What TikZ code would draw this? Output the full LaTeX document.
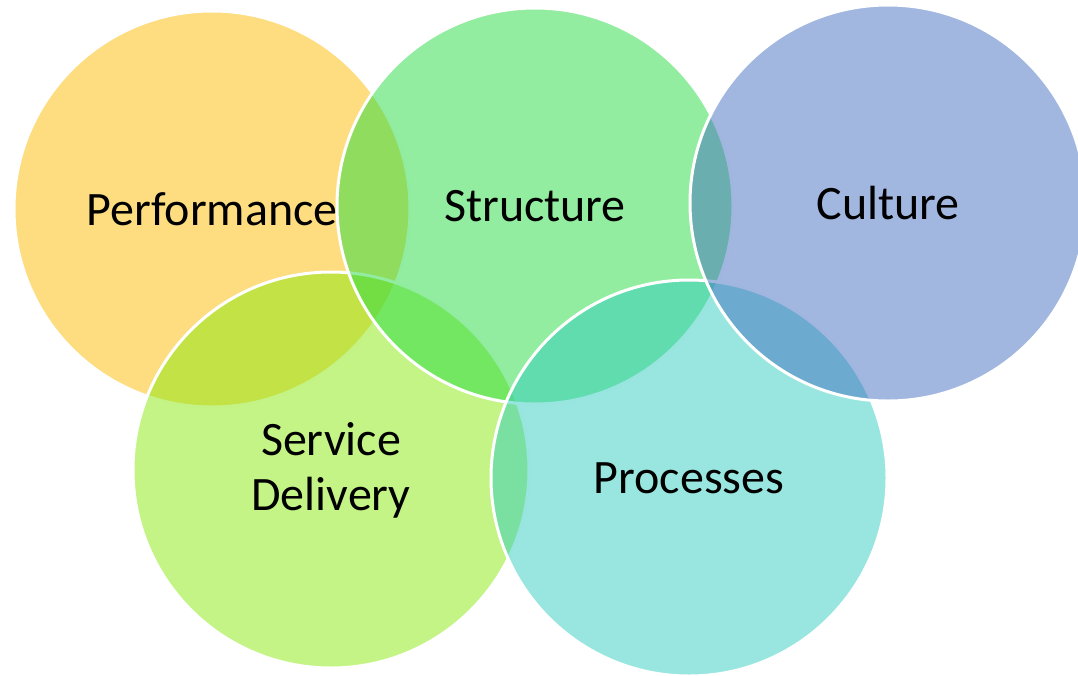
\documentclass[tikz,border=0pt]{standalone}
\usepackage{fontspec}
\setmainfont{Carlito}
\definecolor{perfcol}{RGB}{251,187,1}
\definecolor{strucol}{RGB}{37,219,65}
\definecolor{cultcol}{RGB}{67,111,193}
\definecolor{servcol}{RGB}{137,233,13}
\definecolor{proccol}{RGB}{49,205,191}
\tikzset{
	bubble/.style={draw=white, line width=3pt, fill opacity=0.5, draw opacity=1},
	label text/.style={text=black, align=center, font=\fontsize{48}{55}\selectfont}
}
\begin{document}
\begin{tikzpicture}[x=1pt, y=-1pt, line join=round, line cap=round]
	\useasboundingbox (0,0) rectangle (1078,675);
	\path (212,209)coordinate(Perf) (535,206)coordinate(Stru) (888,203)coordinate(Cult)
		(331,470)coordinate(Serv) (689,478)coordinate(Proc);

\draw[bubble, fill=perfcol] (Perf) circle[radius=198pt];
\draw[bubble, fill=servcol] (Serv) circle[radius=198pt];
\draw[bubble, fill=strucol] (Stru) circle[radius=198pt];
\draw[bubble, fill=proccol] (Proc) circle[radius=198pt];
\draw[bubble, fill=cultcol] (Cult) circle[radius=198pt];
		\node[label text] (perftext) at (Perf) {Performance};
		\node[label text] (strutext) at (Stru) {Structure};
		\node[label text] (culttext) at (Cult) {Culture};
		\node[label text] (servtext) at (Serv) {Service\\Delivery};
		\node[label text] (proctext) at (Proc) {Processes};
\end{tikzpicture}
\end{document}
